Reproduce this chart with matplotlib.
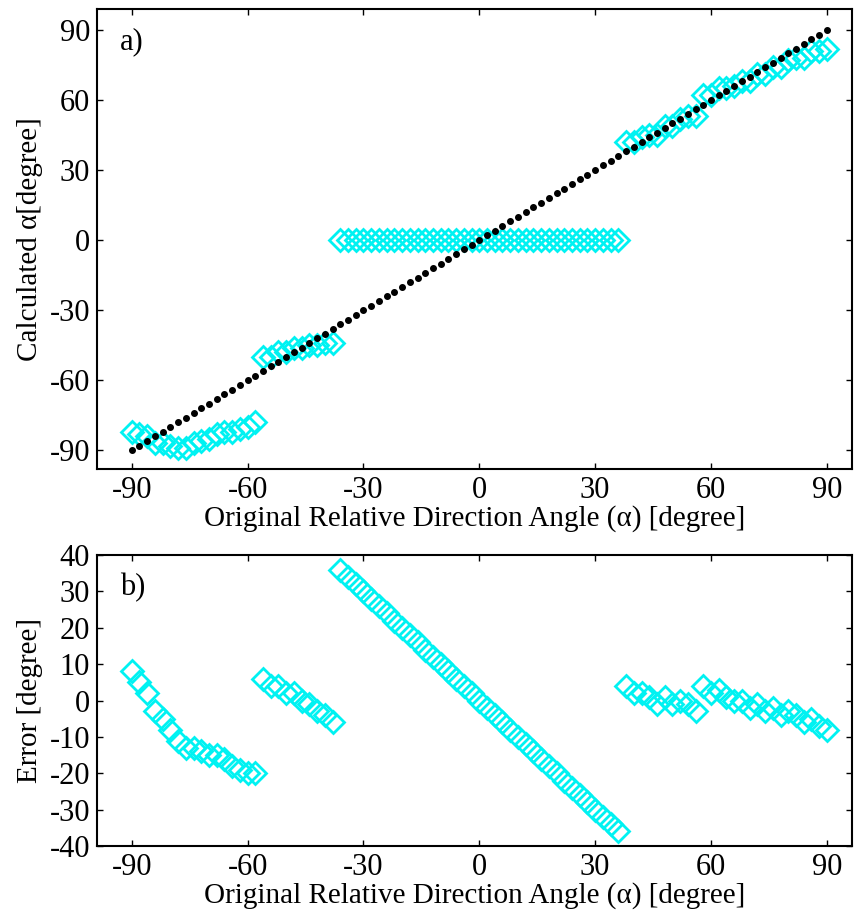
import numpy as np
import matplotlib
matplotlib.use("Agg")
import matplotlib.pyplot as plt

plt.rcParams['font.family'] = ['Liberation Serif', 'DejaVu Serif']
plt.rcParams['axes.unicode_minus'] = False

# original angle, every 2 degrees
alpha = np.arange(-90, 92, 2)

# calculated angle read from panel a)
calc_g1 = [-82, -83, -84, -87, -87, -88, -89, -89, -87, -86, -85, -83, -82, -82, -81, -80, -78]
calc_g2 = [-50, -50, -48, -48, -46, -46, -45, -45, -44, -44]
calc_g3 = [0] * 37
calc_g4 = [42, 42, 44, 45, 45, 49, 49, 52, 53, 53, 62, 62, 65, 65, 66, 68, 68,
           71, 71, 74, 74, 77, 78, 78, 81, 81, 82]
calculated = np.array(calc_g1 + calc_g2 + calc_g3 + calc_g4)
error = calculated - alpha

xticks = [-90, -60, -30, 0, 30, 60, 90]
yticks_a = [-90, -60, -30, 0, 30, 60, 90]
yticks_b = [-40, -30, -20, -10, 0, 10, 20, 30, 40]
xlabel = 'Original Relative Direction Angle (\u03b1) [degree]'

cyan = '#00F2F2'
fs_lab = 21
fs_tick = 22

fig = plt.figure(figsize=(8.56, 9.19), dpi=100)
ax1 = fig.add_axes([0.1133, 0.4897, 0.882, 0.5005])
ax2 = fig.add_axes([0.1133, 0.0794, 0.882, 0.3166])

ax1.plot(alpha, alpha, 'o', color='black', markersize=4, zorder=3)
ax1.plot(alpha, calculated, 'D', markerfacecolor='none', markeredgecolor=cyan,
         markersize=11.5, markeredgewidth=2, zorder=2)
ax1.set_xlim(-99, 96.5)
ax1.set_ylim(-98, 99)
ax1.set_yticks(yticks_a)
ax1.set_ylabel('Calculated \u03b1[degree]', fontsize=fs_lab, labelpad=5)
ax1.text(-93, 85, 'a)', fontsize=fs_tick, va='center')

ax2.plot(alpha, error, 'D', markerfacecolor='none', markeredgecolor=cyan,
         markersize=11.5, markeredgewidth=2)
ax2.set_xlim(-99, 96.5)
ax2.set_ylim(-40, 40)
ax2.set_yticks(yticks_b)
ax2.set_ylabel('Error [degree]', fontsize=fs_lab, labelpad=5)
ax2.text(-93, 31, 'b)', fontsize=fs_tick, va='center')

for ax in (ax1, ax2):
    ax.set_xticks(xticks)
    ax.set_xlabel(xlabel, fontsize=fs_lab, labelpad=0)
    ax.tick_params(direction='in', length=4, width=1, top=True, right=True,
                   labelsize=fs_tick, pad=5)
    for s in ax.spines.values():
        s.set_linewidth(1.5)

fig.savefig('out.png', dpi=100)
